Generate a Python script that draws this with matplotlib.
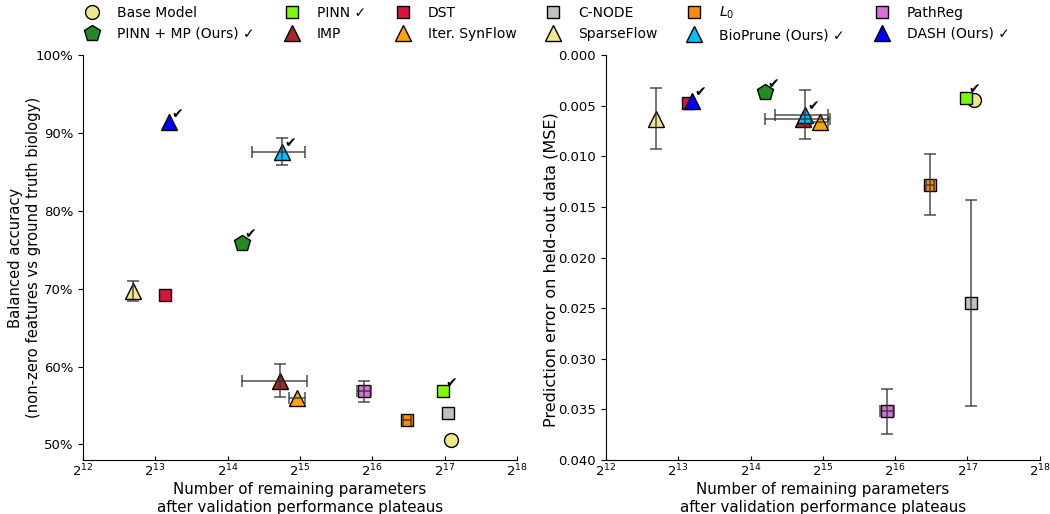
import numpy as np
import matplotlib.pyplot as plt
from matplotlib.lines import Line2D
from matplotlib.ticker import PercentFormatter, FixedLocator, NullLocator

# methods (same order in every array)
methods = ['Base Model', 'PINN \u2713', 'DST', 'C-NODE', '$L_0$', 'PathReg',
           'PINN + MP (Ours) \u2713', 'IMP', 'Iter. SynFlow', 'SparseFlow',
           'BioPrune (Ours) \u2713', 'DASH (Ours) \u2713']
markers = ['o', 's', 's', 's', 's', 's', 'p', '^', '^', '^', '^', '^']
colors = ['#f0e68c', '#7cfc00', '#dc143c', '#c0c0c0', '#ff8c00', '#da70d6',
          '#228b22', '#a52a2a', '#ffa500', '#f0e68c', '#00bfff', '#0000ff']
checked = [False, True, False, False, False, False, True, False, False, False, True, True]

# remaining parameters (and std)
n_params = [139500, 129000, 9000, 135700, 91400, 60700,
            18820, 26970, 31870, 6610, 27550, 9345]
n_params_err = [0, 0, 0, 0, 3500, 4200, 0, 8100, 2500, 0, 6800, 0]

# balanced accuracy (%)
bal_acc = [50.6, 56.8, 69.2, 54.1, 53.1, 56.8, 75.9, 58.2, 56.0, 69.7, 87.6, 91.4]
bal_acc_err = [0, 0, 0, 0, 0, 1.3, 0, 2.1, 0, 1.3, 1.7, 0]

# held-out MSE
mse = [0.0044, 0.0042, 0.0047, 0.0245, 0.0128, 0.0352,
       0.0037, 0.0063, 0.0066, 0.0063, 0.0059, 0.0045]
mse_err = [0, 0, 0, 0.0102, 0.0030, 0.0022, 0, 0, 0, 0.0030, 0.0024, 0]

ms = {'o': 10, 's': 9, 'p': 12, '^': 11}

fig = plt.figure(figsize=(10.5, 5.14), dpi=100)
ax1 = fig.add_axes([0.079, 0.105, 0.4133, 0.788])
ax2 = fig.add_axes([0.577, 0.105, 0.4133, 0.788])


def draw(ax, yvals, yerrs):
    for i in range(len(methods)):
        ax.plot(n_params[i], yvals[i], ls='', marker=markers[i], color=colors[i],
                mec='black', mew=1.0, ms=ms[markers[i]], zorder=2)
        xe = n_params_err[i] if n_params_err[i] > 0 else None
        ye = yerrs[i] if yerrs[i] > 0 else None
        if xe is not None or ye is not None:
            ax.errorbar(n_params[i], yvals[i], xerr=xe, yerr=ye, fmt='none',
                        ecolor='#333333', alpha=0.8, elinewidth=1.2, capsize=4,
                        capthick=1.2, zorder=3)
        if checked[i]:
            ax.annotate('\u2714', (n_params[i], yvals[i]), xytext=(2, 1),
                        textcoords='offset points', ha='left', va='bottom',
                        fontsize=10, fontweight='bold', color='black', zorder=4)
    ax.set_xscale('log', base=2)
    ax.set_xlim(2**12, 2**18)
    ax.xaxis.set_major_locator(FixedLocator([2.0**k for k in range(12, 19)]))
    ax.set_xticklabels(['$2^{%d}$' % k for k in range(12, 19)])
    ax.xaxis.set_minor_locator(NullLocator())
    ax.tick_params(labelsize=9.5)
    ax.tick_params(axis='x', direction='in', length=3, pad=2)
    ax.spines['top'].set_visible(False)
    ax.spines['right'].set_visible(False)
    ax.set_xlabel('Number of remaining parameters\nafter validation performance plateaus',
                  fontsize=10.8, labelpad=2)


draw(ax1, bal_acc, bal_acc_err)
ax1.set_ylim(48, 100)
ax1.set_yticks(np.arange(50, 101, 10))
ax1.yaxis.set_major_formatter(PercentFormatter(decimals=0))
ax1.set_ylabel('Balanced accuracy\n(non-zero features vs ground truth biology)',
               fontsize=10.6)
ax1.yaxis.set_label_coords(-0.097, 0.5)

draw(ax2, mse, mse_err)
ax2.set_ylim(0.040, 0.0)
ax2.set_yticks(np.arange(0, 0.0401, 0.005))
ax2.set_yticklabels(['%.3f' % v for v in np.arange(0, 0.0401, 0.005)])
ax2.set_ylabel('Prediction error on held-out data (MSE)', fontsize=11.5)
ax2.yaxis.set_label_coords(-0.108, 0.47)

# legend: column-major, 2 rows
order = [0, 6, 1, 7, 2, 8, 3, 9, 4, 10, 5, 11]
handles = [Line2D([], [], ls='', marker=markers[i], color=colors[i], mec='black',
                  mew=1.0, ms=ms[markers[i]]) for i in order]
fig.legend(handles, [methods[i] for i in order], ncol=6, loc='upper center',
           bbox_to_anchor=(0.518, 1.015), frameon=False, fontsize=10,
           columnspacing=1.65)

fig.savefig('out.png', dpi=100)
